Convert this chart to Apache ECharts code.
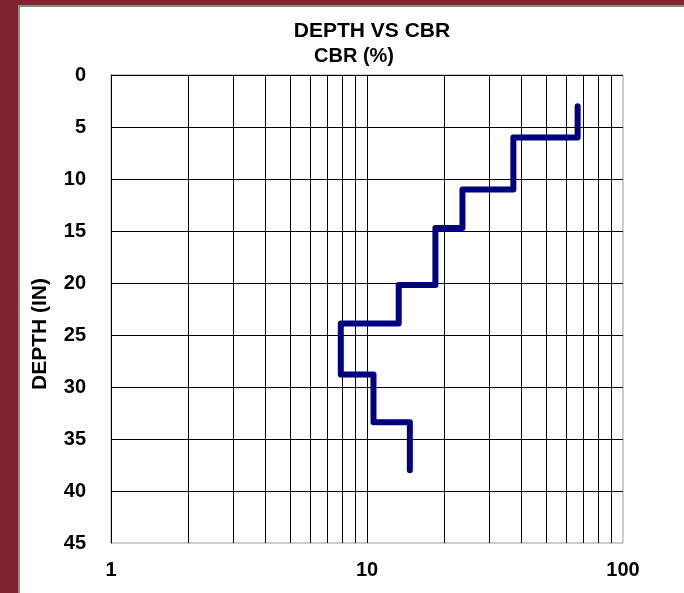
<!DOCTYPE html>
<html>
<head>
<meta charset="utf-8">
<script src="https://cdn.jsdelivr.net/npm/echarts@6/dist/echarts.min.js"></script>
<style>
  html, body { margin: 0; padding: 0; }
  #chart { width: 684px; height: 593px; }
</style>
</head>
<body>
<div id="chart"></div>
<script>
// layer boundaries (depth, in) and CBR (%) of each layer
var depthBreaks = [3, 6, 11, 14.7, 20.2, 23.9, 28.8, 33.4, 38];
var cbrValues = [66.5, 37.3, 23.6, 18.5, 13.3, 7.9, 10.6, 14.7];
var depthTicks = [0, 5, 10, 15, 20, 25, 30, 35, 40, 45];
var cbrTicks = [1, 10, 100];
var cbrMinorGrid = [2, 3, 4, 5, 6, 7, 8, 9, 20, 30, 40, 50, 60, 70, 80, 90];

// step line: each layer is a vertical segment at its CBR
var stepData = [];
for (var i = 0; i < cbrValues.length; i++) {
  stepData.push([cbrValues[i], depthBreaks[i]]);
  stepData.push([cbrValues[i], depthBreaks[i + 1]]);
}

var font = 'Liberation Sans, Arial, sans-serif';
var myChart = echarts.init(document.getElementById('chart'));
var option = {
  backgroundColor: '#7f2530',
  animation: false,
  graphic: [
    {
      type: 'rect', z: -10,
      shape: { x: 19, y: 6, width: 700, height: 620 },
      style: { fill: '#fff', stroke: '#8c8c8c', lineWidth: 2 }
    },
    {
      type: 'text', x: 372, y: 31,
      style: { text: 'DEPTH VS CBR', fill: '#000', font: 'bold 21px ' + font, textAlign: 'center', textVerticalAlign: 'middle' }
    },
    {
      type: 'text', x: 354, y: 56,
      style: { text: 'CBR (%)', fill: '#000', font: 'bold 20px ' + font, textAlign: 'center', textVerticalAlign: 'middle' }
    },
    {
      // y axis title, sits lower than the plot middle in the original
      type: 'text', x: 40, y: 334, rotation: Math.PI / 2,
      style: { text: 'DEPTH (IN)', fill: '#000', font: 'bold 21px ' + font, textAlign: 'center', textVerticalAlign: 'middle' }
    }
  ],
  grid: {
    left: 111, top: 75, right: 61, bottom: 50,
    show: true, borderColor: '#9a9a9a', borderWidth: 1, backgroundColor: 'transparent'
  },
  xAxis: {
    type: 'log',
    logBase: 10,
    min: cbrTicks[0],
    max: cbrTicks[cbrTicks.length - 1],
    axisLine: { show: false },
    axisTick: { show: false },
    axisLabel: {
      color: '#000', fontWeight: 'bold', fontSize: 20, fontFamily: font, margin: 17,
      formatter: function (v) { return cbrTicks.indexOf(v) >= 0 ? String(v) : ''; }
    },
    splitLine: { show: true, showMaxLine: false, lineStyle: { color: '#000', width: 1 } }
  },
  yAxis: {
    type: 'value',
    inverse: true,
    min: depthTicks[0],
    max: depthTicks[depthTicks.length - 1],
    interval: 5,
    axisLine: { show: true, lineStyle: { color: '#000', width: 1 } },
    axisTick: { show: false },
    axisLabel: { color: '#000', fontWeight: 'bold', fontSize: 20, fontFamily: font, margin: 25 },
    splitLine: { show: true, showMaxLine: false, lineStyle: { color: '#000', width: 1 } }
  },
  series: [
    {
      // minor log grid lines
      type: 'line',
      data: [],
      z: 1,
      silent: true,
      markLine: {
        silent: true,
        symbol: 'none',
        label: { show: false },
        lineStyle: { color: '#000', type: 'solid', width: 1 },
        data: cbrMinorGrid.map(function (v) { return { xAxis: v }; })
      }
    },
    {
      name: 'CBR',
      type: 'line',
      z: 5,
      data: stepData,
      showSymbol: false,
      lineStyle: { color: '#000080', width: 6, cap: 'round', join: 'round' }
    }
  ]
};
myChart.setOption(option);
</script>
</body>
</html>
